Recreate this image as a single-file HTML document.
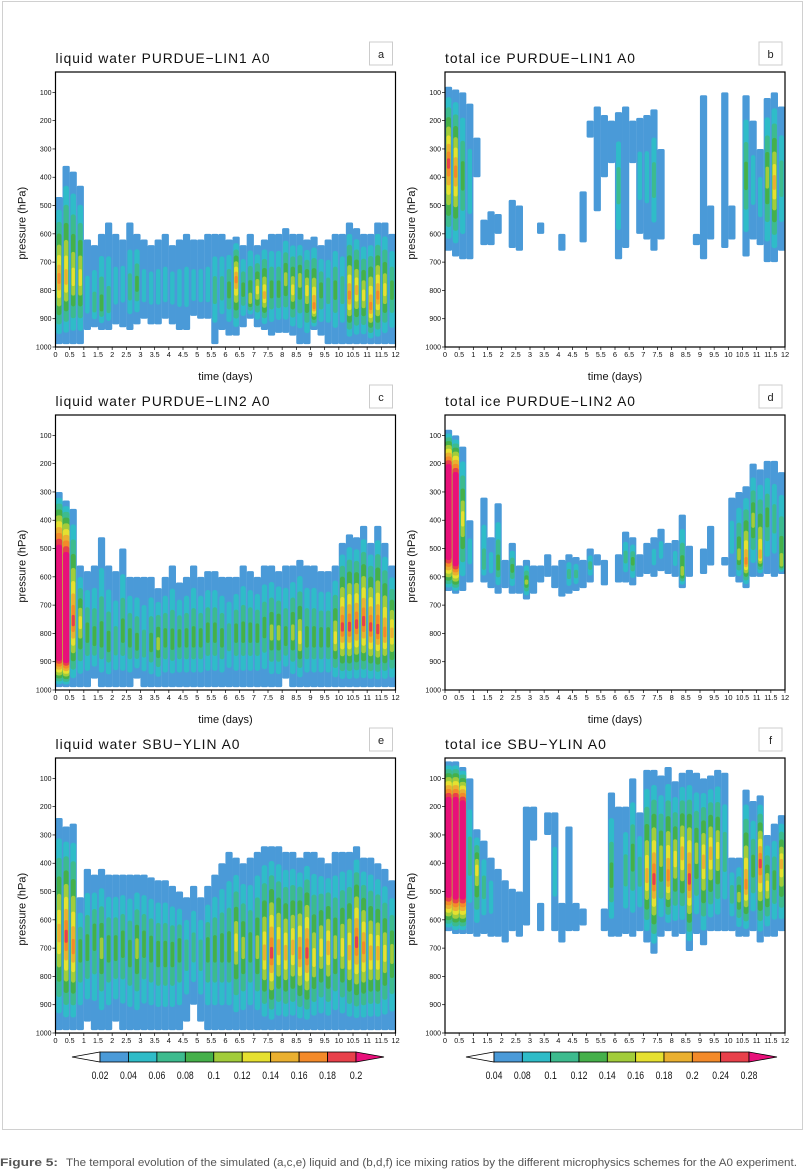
<!DOCTYPE html>
<html><head><meta charset="utf-8"><style>
body{margin:0;background:#fff;}
svg{display:block;font-family:"Liberation Sans",sans-serif;}
</style></head><body>
<svg id="fig" width="805" height="1170" viewBox="0 0 805 1170">
<rect x="2.5" y="1.5" width="800" height="1128" fill="#fff" stroke="#d0d0d0"/>
<g id="panels"></g>
<g id="colorbars"></g>
<text x="0" y="1166" font-size="11" fill="#555" textLength="58" lengthAdjust="spacingAndGlyphs" font-weight="bold">Figure 5:</text>
<text x="66" y="1166" font-size="11" fill="#555" textLength="731" lengthAdjust="spacingAndGlyphs">The temporal evolution of the simulated (a,c,e) liquid and (b,d,f) ice mixing ratios by the different microphysics schemes for the A0 experiment.</text>
</svg>
<script>
// ---- data: per 0.25-day column: cloud top pressure, bottom pressure, peak contour level, core pressure (0 = mid) ----
const times=[];for(let i=0;i<48;i++)times.push(0.125+i*0.25);
const aTops=[470,360,380,430,620,640,600,560,600,620,560,600,620,640,620,600,640,620,600,620,620,600,600,600,620,610,640,600,640,620,600,600,580,600,600,620,610,640,620,600,600,560,580,600,600,560,560,600];
const aBots=[990,990,990,990,940,930,940,940,920,930,940,920,900,920,920,900,920,940,940,890,900,900,990,940,960,960,930,900,930,940,960,950,950,960,990,990,940,960,990,990,990,990,990,990,990,990,990,990];
const aPeaks=[7,6,5,5,1,2,3,2,1,1,2,3,1,1,1,1,1,1,1,1,1,1,2,2,3,7,3,4,5,6,3,3,4,5,4,5,7,3,2,3,2,7,6,5,7,7,5,3];
const aCores=[760,760,760,760,840,860,860,860,800,780,800,780,800,800,800,800,800,800,800,800,800,800,800,800,800,760,800,840,800,820,800,800,760,800,760,800,860,800,800,800,800,820,800,820,860,820,800,800];

const bTops=[80,90,100,140,260,550,520,530,0,480,500,0,0,560,0,0,600,0,0,450,200,150,180,200,170,150,200,190,180,160,300,0,0,0,0,600,110,500,0,100,500,0,110,200,300,120,100,150];
const bBots=[660,680,690,690,400,640,640,600,0,650,660,0,0,600,0,0,660,0,0,630,260,520,400,350,690,650,350,600,620,660,620,0,0,0,0,640,690,620,0,650,620,0,680,620,640,700,700,660];
const bPeaks=[8,7,3,1,0,0,0,0,0,0,0,0,0,0,0,0,0,0,0,0,0,0,0,0,2,0,0,1,1,2,0,0,0,0,0,0,0,0,0,0,0,0,3,1,1,4,6,2];
const bCores=[350,380,0,0,0,0,0,0,0,0,0,0,0,0,0,0,0,0,0,0,0,0,0,0,0,0,0,0,0,0,0,0,0,0,0,0,0,0,0,0,0,0,0,0,0,400,420,0];

const cTops=[300,330,360,560,580,560,460,560,580,500,600,600,600,600,640,600,560,620,600,560,600,580,580,600,600,600,560,580,600,560,560,580,560,560,540,560,560,580,580,560,480,450,460,420,480,420,480,560];
const cBots=[990,990,990,990,990,960,990,990,990,990,990,960,990,990,990,990,990,990,990,990,990,990,990,990,990,990,990,990,990,990,990,990,960,990,990,990,990,990,990,990,990,990,990,990,990,990,990,990];
const cPeaks=[9,9,8,5,3,3,3,3,2,3,3,3,2,3,4,3,3,3,3,3,3,3,3,3,2,3,3,3,3,3,4,4,3,4,5,3,3,3,3,5,8,8,8,8,8,8,7,6];
const cCores=[760,780,760,760,800,820,820,840,840,800,820,840,850,840,840,820,830,820,820,820,820,800,800,820,820,800,800,800,800,780,800,800,820,800,820,820,820,820,820,820,780,780,770,760,780,790,800,800];

const dTops=[80,100,140,400,0,320,460,340,540,480,560,540,560,560,520,560,540,520,530,540,500,520,540,0,520,440,460,520,480,460,430,480,470,380,490,0,500,420,0,530,320,300,280,200,220,190,190,230];
const dBots=[650,660,650,620,0,620,640,660,640,660,660,680,660,620,600,640,670,660,650,640,620,560,630,0,620,620,630,600,590,600,580,590,600,640,600,0,590,560,0,560,600,620,640,600,600,590,600,590];
const dPeaks=[9,9,5,1,0,2,1,3,0,3,0,4,0,0,0,0,0,2,2,0,2,0,0,0,0,2,3,0,0,1,1,0,1,4,0,0,0,0,0,0,1,4,7,4,6,3,2,4];
const dCores=[380,420,0,0,0,560,0,560,0,0,0,620,0,0,0,0,0,0,0,0,0,0,0,0,0,0,0,0,0,0,0,0,0,590,0,0,0,0,0,0,0,530,550,0,530,0,0,560];

const eTops=[240,270,260,520,420,440,420,440,440,440,440,440,440,450,460,460,480,500,520,480,520,480,440,400,360,380,400,380,360,340,340,340,360,360,380,360,360,380,400,360,360,360,340,380,380,400,420,460];
const eBots=[990,990,990,990,960,990,990,990,960,990,990,990,990,990,990,990,990,990,960,900,960,990,990,990,990,990,990,990,990,990,990,990,990,990,990,990,990,990,990,990,990,990,990,990,990,990,990,990];
const ePeaks=[6,8,7,3,3,3,4,3,3,3,3,4,3,3,3,3,3,3,2,2,2,3,3,3,3,5,4,3,4,6,8,6,6,6,7,8,5,5,6,4,5,6,8,7,6,6,5,4];
const eCores=[650,660,700,700,700,650,700,700,700,680,720,700,680,700,720,720,720,700,720,700,720,700,700,700,700,680,700,700,700,720,720,700,720,700,720,720,740,700,700,700,700,720,680,700,720,720,720,720];

const fTops=[40,40,60,100,280,320,380,420,460,490,500,200,200,540,220,220,540,270,540,560,0,0,560,150,200,200,100,220,70,70,90,60,110,80,70,80,100,90,70,80,380,380,140,180,160,300,260,230];
const fBots=[640,650,650,650,660,650,660,660,680,640,660,620,320,640,300,640,680,640,640,620,0,0,640,660,660,650,660,640,680,720,660,640,660,650,710,650,690,640,640,640,640,660,660,640,680,660,660,640];
const fPeaks=[9,9,9,2,5,2,1,0,0,0,0,0,0,0,0,1,0,0,0,0,0,0,0,3,0,2,3,2,6,8,4,7,5,6,8,4,6,6,5,2,2,4,7,3,8,5,3,6];
const fCores=[350,350,350,0,420,0,0,0,0,0,0,0,0,0,0,0,0,0,0,0,0,0,0,450,0,0,0,0,450,460,0,450,0,0,460,0,0,0,0,0,0,0,480,0,400,0,0,400];

const xTicks=["0","0.5","1","1.5","2","2.5","3","3.5","4","4.5","5","5.5","6","6.5","7","7.5","8","8.5","9","9.5","10","10.5","11","11.5","12"];
const yTicks=[100,200,300,400,500,600,700,800,900,1000];
const liqLabels=["0.02","0.04","0.06","0.08","0.1","0.12","0.14","0.16","0.18","0.2"];
const iceLabels=["0.04","0.08","0.1","0.12","0.14","0.16","0.18","0.2","0.24","0.28"];
const palette=["#4a9ad8","#2fbcc8","#3dbb8e","#45b04a","#a2cc3a","#e6e030","#eab030","#f38a2a","#e8404a","#e8107a"];

const NS="http://www.w3.org/2000/svg";
function el(tag,attrs,parent){const e=document.createElementNS(NS,tag);for(const k in attrs)e.setAttribute(k,attrs[k]);if(parent)parent.appendChild(e);return e;}
const PW=340,PH=275,PTOP=28,PBOT=1000;

function drawPanel(x0,y0,title,titleLen,letter,tops,bots,peaks,cores,showXTitle){
  const root=document.getElementById('panels');
  const g=el('g',{},root);
  
  
  const xs=t=>x0+t/12*PW;
  const ys=p=>y0+(p-PTOP)/(PBOT-PTOP)*PH;
  const t1=el('text',{x:x0,y:y0-9,'font-size':14,fill:'#111',textLength:titleLen,lengthAdjust:'spacingAndGlyphs','letter-spacing':1},g);
  t1.textContent=title;
  
  
  const bx=x0+PW-26;
  const lb=el('rect',{x:bx,y:y0-30,width:23,height:23,fill:'#fff',stroke:'#ccc'},g);
  
  
  const lt=el('text',{x:bx+11.5,y:y0-14,'font-size':11,'text-anchor':'middle',fill:'#222'},g);
  lt.textContent=letter;
  
  
  const clip=el('clipPath',{id:'clip'+letter},g);
  el('rect',{x:x0,y:y0,width:PW,height:PH},clip);
  const cg=el('g',{'clip-path':'url(#clip'+letter+')'},g);
  
  
  const w=PW/48;
  for(let k=0;k<=9;k++){
    for(let i=0;i<times.length;i++){
      if(!(bots[i]>tops[i]))continue;
      const pk=peaks[i];
      if(k>pk)continue;
      const c=cores[i]||(tops[i]+bots[i])/2;
      const sat=pk===9;
      const f=sat?1-0.45*k/10:Math.pow(1-k/(pk+1),1.25);
      const tp=c-(c-tops[i])*f, bp=c+(bots[i]-c)*f;
      const ww=k===0?w*1.02:(sat?w*(1-0.15*k/10):w*(0.85-0.45*k/(pk+1)));
      const r=el('rect',{x:xs(times[i])-ww/2,y:ys(tp),width:ww,height:Math.max(1,ys(bp)-ys(tp)),rx:k===0?1.5:Math.min(ww/2,2.5),fill:palette[k]},cg);
      
      
    }
  }
  const fr=el('rect',{x:x0,y:y0,width:PW,height:PH,fill:'none',stroke:'#000','stroke-width':1.2},g);
  
  
  xTicks.forEach((lab,j)=>{
    const x=xs(j*0.5);
    el('line',{x1:x,x2:x,y1:y0+PH,y2:y0+PH+3,stroke:'#000','stroke-width':0.7},g);
    const t=el('text',{x:x,y:y0+PH+10,'font-size':7.5,'text-anchor':'middle',fill:'#111'},g);
    t.textContent=lab;
    if(lab.length>2){t.setAttribute('textLength',lab.length*3.3);t.setAttribute('lengthAdjust','spacingAndGlyphs');}
    
    
  });
  yTicks.forEach(v=>{
    const y=ys(v);
    el('line',{x1:x0-3,x2:x0,y1:y,y2:y,stroke:'#000','stroke-width':0.7},g);
    const t=el('text',{x:x0-4,y:y+2.5,'font-size':7,'text-anchor':'end',fill:'#111'},g);
    t.textContent=v;
    
    
  });
  const yt=el('text',{x:0,y:0,'font-size':11,'text-anchor':'middle',fill:'#111',transform:`translate(${x0-30},${y0+PH*0.55}) rotate(-90)`},g);
  yt.textContent='pressure (hPa)';
  
  
  if(showXTitle){
    const xt=el('text',{x:x0+PW*0.5,y:y0+PH+33,'font-size':11,'text-anchor':'middle',fill:'#111'},g);
    xt.textContent='time (days)';
    
    
  }
}
drawPanel(55.5,72,'liquid water PURDUE\u2212LIN1 A0',215,'a',aTops,aBots,aPeaks,aCores,true);
drawPanel(445,72,'total ice PURDUE\u2212LIN1 A0',191,'b',bTops,bBots,bPeaks,bCores,true);
drawPanel(55.5,415,'liquid water PURDUE\u2212LIN2 A0',215,'c',cTops,cBots,cPeaks,cCores,true);
drawPanel(445,415,'total ice PURDUE\u2212LIN2 A0',191,'d',dTops,dBots,dPeaks,dCores,true);
drawPanel(55.5,758,'liquid water SBU\u2212YLIN A0',185,'e',eTops,eBots,ePeaks,eCores,false);
drawPanel(445,758,'total ice SBU\u2212YLIN A0',162,'f',fTops,fBots,fPeaks,fCores,false);

function drawColorbar(xl,xr,labels,name){
  const root=document.getElementById('colorbars');
  const g=el('g',{},root);
  
  
  const y0=1052,h=10,tip=28;
  const n=labels.length-1,bw=(xr-xl)/n;
  el('polygon',{points:`${xl-tip},${y0+h/2} ${xl},${y0} ${xl},${y0+h}`,fill:'#fff',stroke:'#000','stroke-width':0.8},g);
  for(let i=0;i<n;i++){
    const r=el('rect',{x:xl+i*bw,y:y0,width:bw,height:h,fill:palette[i],stroke:'#000','stroke-width':0.8},g);
    
    
  }
  el('polygon',{points:`${xr},${y0} ${xr+tip},${y0+h/2} ${xr},${y0+h}`,fill:palette[9],stroke:'#000','stroke-width':0.8},g);
  labels.forEach((lab,i)=>{
    const t=el('text',{x:xl+i*bw,y:y0+h+17,'font-size':11,'text-anchor':'middle',fill:'#111',textLength:lab.length*4.2,lengthAdjust:'spacingAndGlyphs'},g);
    t.textContent=lab;
    
    
  });
}
drawColorbar(100,356,liqLabels,'liquid-colorbar');
drawColorbar(494,749,iceLabels,'ice-colorbar');
</script>
</body></html>
